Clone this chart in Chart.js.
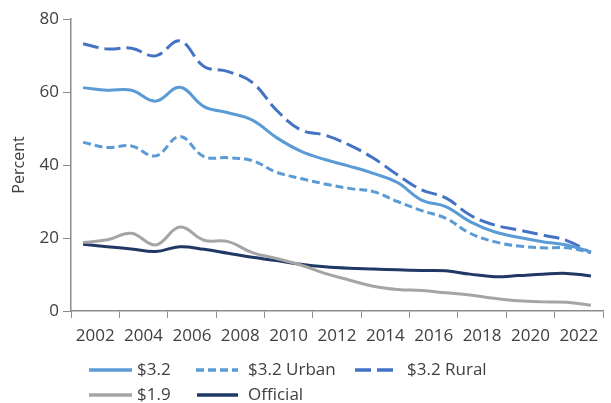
<!DOCTYPE html>
<html>
<head>
<meta charset="utf-8">
<script src="https://cdn.jsdelivr.net/npm/chart.js@4"></script>
<style>
  html, body { margin: 0; padding: 0; background: #fff; }
  #wrap { width: 611px; height: 403px; position: relative; }
</style>
</head>
<body>
<div id="wrap"><canvas id="chart"></canvas></div>
<script>
// poverty rates, percent

const YEARS = [2002, 2003, 2004, 2005, 2006, 2007, 2008, 2009, 2010, 2011, 2012,
  2013, 2014, 2015, 2016, 2017, 2018, 2019, 2020, 2021, 2022, 2023];

const RATE_32 = [61.2, 60.5, 60.5, 57.5, 61.3, 56.0, 54.3, 52.3, 47.5, 43.8, 41.5,
  39.7, 37.7, 35.2, 30.4, 28.6, 24.5, 21.7, 20.2, 19.0, 18.1, 16.2];

const RATE_32_URBAN = [46.2, 44.8, 45.2, 42.5, 47.8, 42.3, 42.0, 41.2, 38.0, 36.3, 34.8,
  33.6, 32.7, 30.0, 27.5, 25.4, 21.3, 19.0, 17.8, 17.3, 17.3, 16.0];

const RATE_32_RURAL = [73.2, 71.8, 72.0, 69.9, 74.0, 67.0, 65.6, 62.6, 55.0, 49.6, 48.2,
  45.5, 41.9, 37.3, 33.2, 31.0, 26.3, 23.6, 22.2, 20.8, 19.3, 16.0];

const RATE_19 = [18.8, 19.5, 21.3, 18.1, 23.0, 19.4, 19.0, 16.0, 14.4, 12.6, 10.3,
  8.5, 6.8, 5.9, 5.6, 5.0, 4.4, 3.5, 2.8, 2.5, 2.4, 1.6];

const RATE_OFFICIAL = [18.3, 17.6, 17.0, 16.3, 17.6, 16.9, 15.8, 14.7, 13.8, 12.8, 12.1,
  11.7, 11.5, 11.3, 11.1, 11.0, 10.1, 9.4, 9.7, 10.1, 10.3, 9.6];

const Y_TICKS = [0, 20, 40, 60, 80];

const FONT = "'Open Sans', 'Noto Sans', sans-serif";
const TEXT_COLOR = '#404040';
const AXIS_COLOR = '#8c8c8c';

// legend slots: [line x, row y, line length, text x]
const LEGEND_SLOTS = [
  [ 89, 370, 43, 137 ], [ 196, 370, 42, 248 ], [ 355, 370, 42, 407 ],
  [ 89, 395, 43, 137 ], [ 197, 395, 41, 248 ]
];

function to_points( values_in ) {
  return YEARS.map( ( yr, i ) => ( { x: yr, y: values_in[ i ] } ) );
}

function make_line( label, values_in, color, dash ) {
  return {
    label: label,
    data: to_points( values_in ),
    borderColor: color,
    backgroundColor: color,
    borderWidth: 3,
    borderDash: dash,
    borderCapStyle: 'butt',
    pointRadius: 0,
    tension: 0.4,
    fill: false
  };
}

const legend_plugin = {
  id: 'slot_legend',
  afterDraw( chart ) {
    const ctx = chart.ctx;
    ctx.save();
    chart.data.datasets.forEach( ( ds, i ) => {
      const [ x, y, len, tx ] = LEGEND_SLOTS[ i ];
      ctx.beginPath();
      ctx.strokeStyle = ds.borderColor;
      ctx.lineWidth = 3.5;
      ctx.lineCap = 'butt';
      ctx.setLineDash( ds.borderDash || [] );
      ctx.moveTo( x, y );
      ctx.lineTo( x + len, y );
      ctx.stroke();
      ctx.setLineDash( [] );
      ctx.fillStyle = TEXT_COLOR;
      ctx.font = '17px ' + FONT;
      ctx.textBaseline = 'middle';
      ctx.fillText( ds.label, tx, y );
    } );
    ctx.restore();
  }
};

function build_x_ticks( scale ) {
  const out = [];
  for ( let v = YEARS[ 0 ] - 0.5; v <= YEARS[ YEARS.length - 1 ] + 0.5; v += 0.5 ) {
    out.push( { value: v } );
  }
  scale.ticks = out;
}

function is_bound_tick( v ) {
  return Math.abs( ( v - ( YEARS[ 0 ] - 0.5 ) ) % 2 ) < 0.01;
}

function is_label_tick( v ) {
  return Math.abs( ( v - ( YEARS[ 0 ] + 0.5 ) ) % 2 ) < 0.01;
}

new Chart( document.getElementById( 'chart' ), {
  type: 'line',
  data: {
    datasets: [
      make_line( '$3.2', RATE_32, '#5b9bd5', [] ),
      make_line( '$3.2 Urban', RATE_32_URBAN, '#5b9bd5', [ 8, 4 ] ),
      make_line( '$3.2 Rural', RATE_32_RURAL, '#4472c4', [ 16, 6 ] ),
      make_line( '$1.9', RATE_19, '#a5a5a5', [] ),
      make_line( 'Official', RATE_OFFICIAL, '#203864', [] )
    ]
  },
  options: {
    responsive: true,
    maintainAspectRatio: false,
    animation: false,
    layout: { padding: { top: 19, right: 0, bottom: 0, left: 0 } },
    plugins: {
      legend: { display: false },
      tooltip: { enabled: false }
    },
    scales: {
      x: {
        type: 'linear',
        min: YEARS[ 0 ] - 0.5,
        max: YEARS[ YEARS.length - 1 ] + 0.5,
        afterBuildTicks: build_x_ticks,
        afterFit: scale => { scale.height = 92; },
        border: { display: true, color: AXIS_COLOR, width: 1.5 },
        grid: {
          drawOnChartArea: false,
          drawTicks: true,
          tickLength: 7,
          color: c => is_bound_tick( c.tick.value ) ? AXIS_COLOR : 'rgba(0,0,0,0)'
        },
        ticks: {
          autoSkip: false,
          maxRotation: 0,
          padding: 8,
          color: TEXT_COLOR,
          font: { family: FONT, size: 17 },
          callback: v => is_label_tick( v ) ? String( Math.round( v - 0.5 ) ) : ''
        }
      },
      y: {
        min: 0,
        max: 80,
        afterBuildTicks: scale => { scale.ticks = Y_TICKS.map( v => ( { value: v } ) ); },
        afterFit: scale => { scale.width = 71; },
        border: { display: true, color: AXIS_COLOR, width: 1.5 },
        grid: {
          drawOnChartArea: false,
          drawTicks: true,
          tickLength: 8,
          color: AXIS_COLOR
        },
        ticks: {
          padding: 4,
          color: TEXT_COLOR,
          font: { family: FONT, size: 17 }
        },
        title: {
          display: true,
          text: 'Percent',
          color: TEXT_COLOR,
          font: { family: FONT, size: 16 },
          padding: { top: 10, bottom: 0 }
        }
      }
    }
  },
  plugins: [ legend_plugin ]
} );
</script>
</body>
</html>
